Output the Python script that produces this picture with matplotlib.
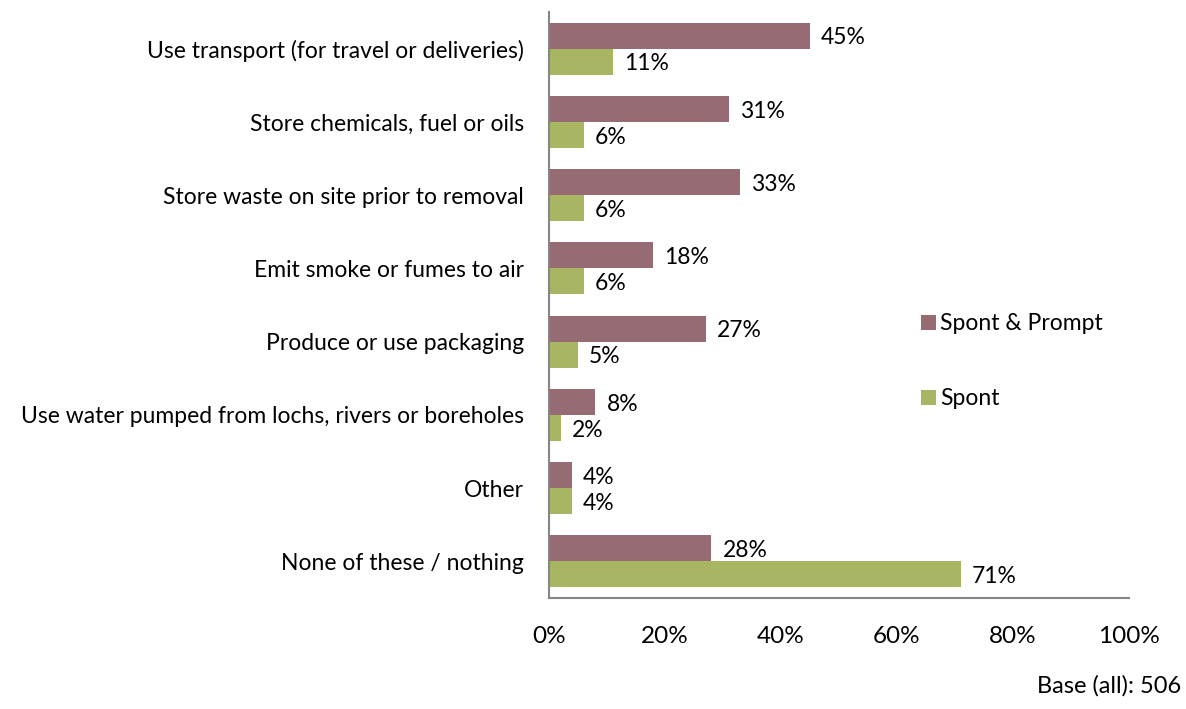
import matplotlib.pyplot as plt
import numpy as np

plt.rcParams['font.family'] = ['Lato', 'DejaVu Sans']

categories = ['Use transport (for travel or deliveries)',
              'Store chemicals, fuel or oils',
              'Store waste on site prior to removal',
              'Emit smoke or fumes to air',
              'Produce or use packaging',
              'Use water pumped from lochs, rivers or boreholes',
              'Other',
              'None of these / nothing']
spont_prompt = [45, 31, 33, 18, 27, 8, 4, 28]
spont = [11, 6, 6, 6, 5, 2, 4, 71]
x_ticks = [0, 20, 40, 60, 80, 100]

col_sp = '#976b73'
col_s = '#a8b562'

fig = plt.figure(figsize=(11.86, 7.09), dpi=100)
ax = fig.add_axes([0.4629, 0.1566, 0.489, 0.8265])

y = np.arange(len(categories))
h = 0.355
b1 = ax.barh(y - h / 2, spont_prompt, height=h, color=col_sp, label='Spont & Prompt')
b2 = ax.barh(y + h / 2, spont, height=h, color=col_s, label='Spont')

for bars, vals in [(b1, spont_prompt), (b2, spont)]:
    for bar, v in zip(bars, vals):
        ax.text(bar.get_width() + 1.9, bar.get_y() + bar.get_height() / 2 + 0.03,
                '%d%%' % v, va='center', ha='left', fontsize=16.5)

ax.set_ylim(len(categories) - 0.5, -0.5)
ax.set_xlim(0, 100)
ax.set_yticks(y)
ax.set_yticklabels(categories, fontsize=16.5)
ax.set_xticks(x_ticks)
ax.set_xticklabels(['%d%%' % t for t in x_ticks], fontsize=17.5)
ax.tick_params(axis='y', length=0, pad=18)
ax.tick_params(axis='x', length=0, pad=20)

for s in ['top', 'right']:
    ax.spines[s].set_visible(False)
for s in ['left', 'bottom']:
    ax.spines[s].set_color('#868686')
    ax.spines[s].set_linewidth(1.5)

fig.legend(loc='upper left', bbox_to_anchor=(0.759, 0.587), frameon=False,
           fontsize=16.5, handlelength=0.65, handleheight=0.65, handletextpad=0.2,
           labelspacing=2.35)

fig.text(0.996, 0.018, 'Base (all): 506', ha='right', va='bottom', fontsize=17)

fig.savefig('out.png', dpi=100)
